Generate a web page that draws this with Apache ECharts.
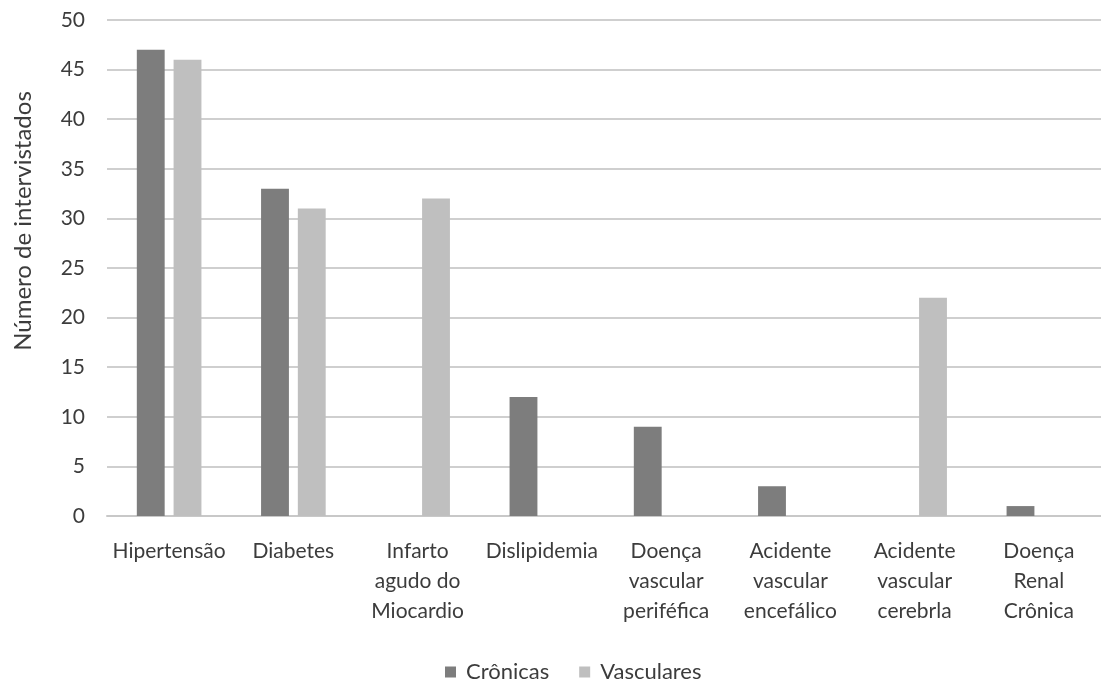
<!DOCTYPE html>
<html>
<head>
<meta charset="utf-8">
<script src="https://cdn.jsdelivr.net/npm/echarts@6/dist/echarts.min.js"></script>
<style>
  html, body { margin: 0; padding: 0; background: #fff; }
  #chart { width: 1101px; height: 682px; }
</style>
</head>
<body>
<div id="chart"></div>
<script>
// Doenças relatadas pelos entrevistados
const categories = [
  'Hipertensão',
  'Diabetes',
  'Infarto\nagudo do\nMiocardio',
  'Dislipidemia',
  'Doença\nvascular\nperiféfica',
  'Acidente\nvascular\nencefálico',
  'Acidente\nvascular\ncerebrla',
  'Doença\nRenal\nCrônica'
];
const cronicas   = [47, 33, 0, 12, 9, 3, 0, 1];
const vasculares = [46, 31, 32, 0, 0, 0, 22, 0];
const yTicks = [0, 5, 10, 15, 20, 25, 30, 35, 40, 45, 50];
const yAxisTitle = 'Número de intervistados';

const font = 'Lato, "Open Sans", sans-serif';
const textColor = '#3c3c3c';
const chart = echarts.init(document.getElementById('chart'));
chart.setOption({
  animation: false,
  backgroundColor: '#ffffff',
  // the plot area runs on past the right edge of the canvas
  grid: { left: 107, right: -11, top: 20, bottom: 166 },
  legend: {
    top: 656,
    left: 440,
    itemWidth: 11,
    itemHeight: 11,
    itemGap: 30,
    icon: 'rect',
    textStyle: { fontFamily: font, fontSize: 22, color: textColor, padding: [0, 0, 0, 5] },
    data: ['Crônicas', 'Vasculares']
  },
  graphic: [{
    type: 'text',
    x: 23,
    y: 221,
    rotation: Math.PI / 2,
    style: {
      text: yAxisTitle,
      fontFamily: font,
      fontSize: 24,
      fill: textColor,
      align: 'center',
      verticalAlign: 'middle'
    }
  }],
  xAxis: {
    type: 'category',
    data: categories,
    axisTick: { show: false },
    axisLine: { lineStyle: { color: '#c8c8c8', width: 2 } },
    axisLabel: {
      interval: 0,
      margin: 20,
      fontFamily: font,
      fontSize: 21,
      lineHeight: 30,
      color: textColor
    }
  },
  yAxis: {
    type: 'value',
    min: yTicks[0],
    max: yTicks[yTicks.length - 1],
    interval: 5,
    axisLine: { show: false },
    axisTick: { show: false },
    axisLabel: {
      margin: 22,
      fontFamily: font,
      fontSize: 21,
      color: textColor
    },
    splitLine: { lineStyle: { color: '#cfcfcf', width: 2 } }
  },
  series: [
    {
      name: 'Crônicas',
      type: 'bar',
      data: cronicas,
      barGap: '32%',
      barCategoryGap: '48%',
      itemStyle: { color: '#7d7d7d' }
    },
    {
      name: 'Vasculares',
      type: 'bar',
      data: vasculares,
      itemStyle: { color: '#bfbfbf' }
    }
  ]
});
</script>
</body>
</html>
